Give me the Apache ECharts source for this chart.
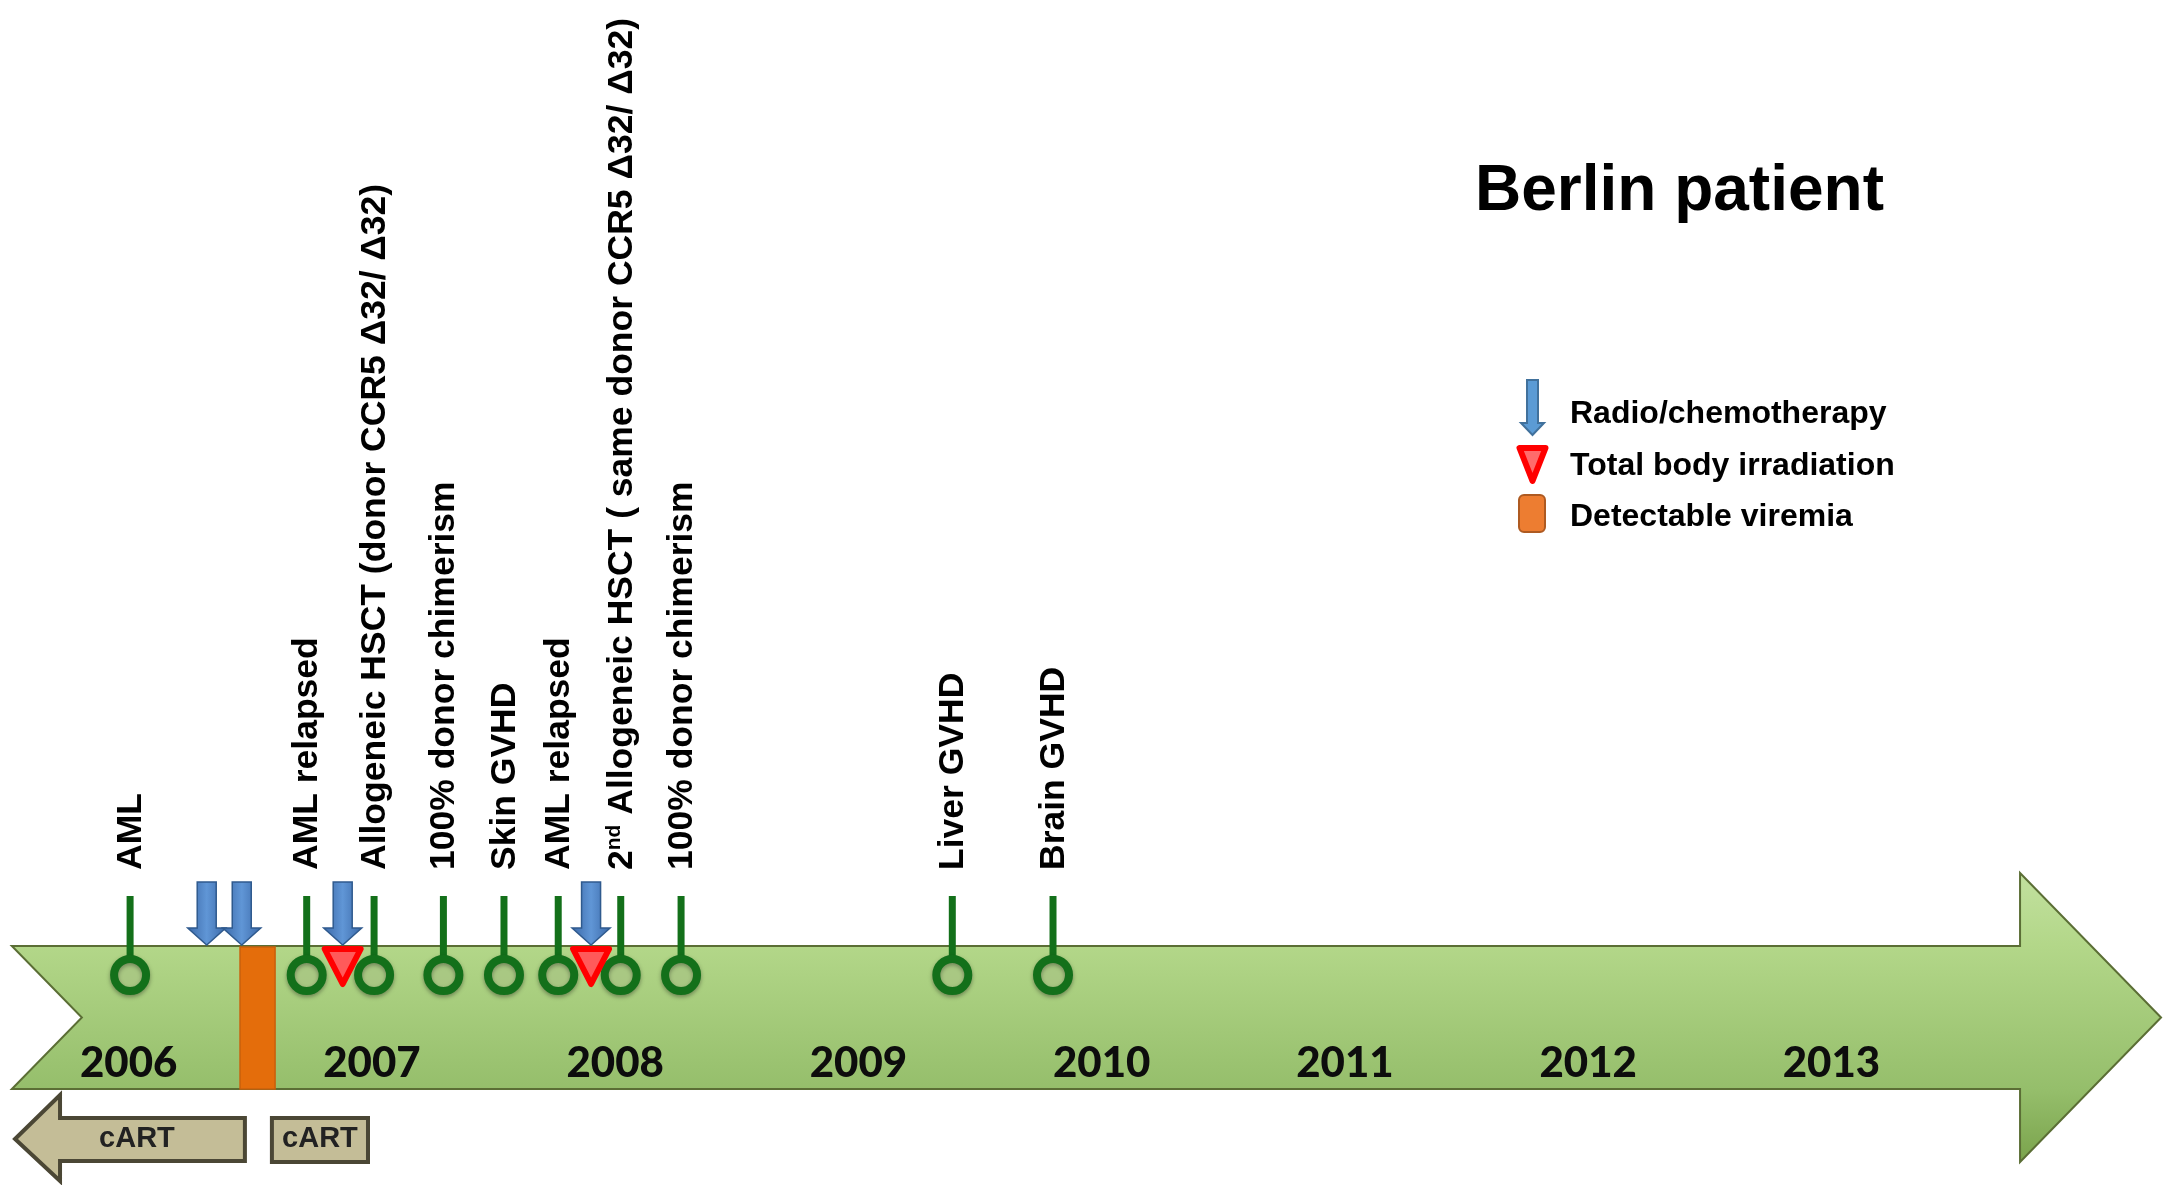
<!DOCTYPE html>
<html>
<head>
<meta charset="utf-8">
<title>Berlin patient</title>
<script src="https://cdn.jsdelivr.net/npm/echarts@6/dist/echarts.min.js"></script>
<style>
html, body { margin: 0; padding: 0; background: #fff; }
#chart { width: 2176px; height: 1185px; }
</style>
</head>
<body>
<div id="chart"></div>
<script>
// timeline values, in fractional years
var yearTicks = [2006, 2007, 2008, 2009, 2010, 2011, 2012, 2013];
var timelineRange = [2005.52, 2014.355];
var eventNames = [
  'AML',
  'AML relapsed',
  'Allogeneic HSCT (donor CCR5 \u039432/ \u039432)',
  '100% donor chimerism',
  'Skin GVHD',
  'AML relapsed',
  '2{sup|nd} Allogeneic HSCT ( same donor CCR5 \u039432/ \u039432)',
  '100% donor chimerism',
  'Liver GVHD',
  'Brain GVHD'
];
var eventDates = [2006.006, 2006.732, 2007.009, 2007.294, 2007.543, 2007.766, 2008.023, 2008.271, 2009.386, 2009.800];
var chemoDates = [2006.321, 2006.465, 2006.880, 2007.901];
var tbiDates = [2006.880, 2007.901];
var viremiaPeriods = [[2006.458, 2006.602]];
var cartPeriods = [[2005.533, 2006.478], [2006.589, 2006.984]];
var cartOpenStart = [true, false];
var cartLabels = ['cART', 'cART'];
var legendNames = ['Radio/chemotherapy', 'Total body irradiation', 'Detectable viremia'];

(function() {
  var ARIAL = '"Liberation Sans", Arial, sans-serif';
  var GREEN = '#13701a';
  var BAND_TOP = 946, BAND_BOTTOM = 1089, HEAD_TOP = 873, HEAD_BOTTOM = 1162;
  var HEAD_LEN = 141, NOTCH = 70;
  var STEM_TOP = 896, RING_Y = 975, RING_R = 16, LABEL_Y = 870;

  function xOf(api, v) { return api.coord([v, 0])[0]; }
  function pts(arr) { return arr.map(function(d) { return [d, 0]; }); }

  var bandFill = new echarts.graphic.LinearGradient(0, 0, 0, 1, [
    { offset: 0, color: '#c2e19f' },
    { offset: 0.25, color: '#b3d789' },
    { offset: 0.75, color: '#95be6b' },
    { offset: 1, color: '#7aa34c' }
  ]);
  var blueFill = new echarts.graphic.LinearGradient(0, 0, 1, 0, [
    { offset: 0, color: '#3a67a6' },
    { offset: 0.5, color: '#6096d6' },
    { offset: 1, color: '#3a67a6' }
  ]);

  var chart = echarts.init(document.getElementById('chart'), null, { renderer: 'canvas' });

  chart.setOption({
    animation: false,
    backgroundColor: '#ffffff',
    title: {
      text: 'Berlin patient',
      left: 1470, top: 155,
      textStyle: { fontFamily: ARIAL, fontWeight: 'bold', fontSize: 64, color: '#000' }
    },
    grid: { left: 7, right: 4, top: 0, bottom: 0 },
    xAxis: { type: 'value', min: 2005.5, max: 2014.4, show: false },
    yAxis: { type: 'value', min: 0, max: 1, show: false },
    series: [
      {
        // the green time arrow
        type: 'custom', silent: true, z: 1,
        data: [timelineRange],
        renderItem: function(params, api) {
          var x0 = xOf(api, api.value(0)), x1 = xOf(api, api.value(1));
          var xs = x1 - HEAD_LEN, mid = (BAND_TOP + BAND_BOTTOM) / 2;
          return {
            type: 'polygon',
            shape: { points: [[x0, BAND_TOP], [xs, BAND_TOP], [xs, HEAD_TOP], [x1, mid],
              [xs, HEAD_BOTTOM], [xs, BAND_BOTTOM], [x0, BAND_BOTTOM], [x0 + NOTCH, mid]] },
            style: { fill: bandFill, stroke: '#5b6e35', lineWidth: 2 }
          };
        }
      },
      {
        type: 'custom', name: legendNames[2], silent: true, z: 2,
        data: viremiaPeriods,
        renderItem: function(params, api) {
          var x0 = xOf(api, api.value(0)), x1 = xOf(api, api.value(1));
          return {
            type: 'rect',
            shape: { x: x0, y: BAND_TOP + 1, width: x1 - x0, height: BAND_BOTTOM - BAND_TOP - 1 },
            style: { fill: '#e46d0b', stroke: '#c9600c', lineWidth: 1.5 }
          };
        }
      },
      {
        type: 'custom', silent: true, z: 3,
        data: pts(yearTicks),
        renderItem: function(params, api) {
          return {
            type: 'text', x: xOf(api, api.value(0)), y: 1063,
            style: {
              text: String(yearTicks[params.dataIndex]), align: 'center', verticalAlign: 'middle',
              fontFamily: 'Lato, "Liberation Sans", sans-serif', fontWeight: 900, fontSize: 42, fill: '#0d0d0d'
            }
          };
        }
      },
      {
        type: 'custom', silent: true, z: 4,
        data: pts(eventDates),
        renderItem: function(params, api) {
          var x = xOf(api, api.value(0));
          return {
            type: 'group',
            children: [
              { type: 'line', shape: { x1: x, y1: STEM_TOP, x2: x, y2: RING_Y - RING_R },
                style: { stroke: GREEN, lineWidth: 7 } },
              { type: 'circle', shape: { cx: x, cy: RING_Y, r: RING_R },
                style: { fill: 'rgba(200,230,160,0.4)', stroke: GREEN, lineWidth: 8,
                  shadowBlur: 4, shadowOffsetY: 2, shadowColor: 'rgba(0,0,0,0.35)' } },
              { type: 'text', x: x + 1, y: LABEL_Y, rotation: Math.PI / 2,
                style: {
                  text: eventNames[params.dataIndex], align: 'left', verticalAlign: 'middle',
                  fontFamily: ARIAL, fontWeight: 'bold', fontSize: 35.5, fill: '#000',
                  rich: { sup: { fontFamily: ARIAL, fontWeight: 'bold', fontSize: 21, verticalAlign: 'top', fill: '#000' } }
                } }
            ]
          };
        }
      },
      {
        type: 'custom', name: legendNames[1], silent: true, z: 5,
        data: pts(tbiDates),
        renderItem: function(params, api) {
          var x = xOf(api, api.value(0));
          return {
            type: 'polygon',
            shape: { points: [[x - 18, 949], [x + 18, 949], [x, 984]] },
            style: { fill: '#ff5a5a', stroke: '#ff0000', lineWidth: 6, lineJoin: 'round' }
          };
        }
      },
      {
        type: 'custom', name: legendNames[0], silent: true, z: 6,
        data: pts(chemoDates),
        renderItem: function(params, api) {
          var x = xOf(api, api.value(0));
          return {
            type: 'polygon',
            shape: { points: [[x - 9.5, 882], [x + 9.5, 882], [x + 9.5, 928], [x + 19, 928],
              [x, 945], [x - 19, 928], [x - 9.5, 928]] },
            style: { fill: blueFill, stroke: '#2f5a8e', lineWidth: 1.5 }
          };
        }
      },
      {
        type: 'custom', silent: true, z: 3,
        data: cartPeriods,
        renderItem: function(params, api) {
          var i = params.dataIndex;
          var x0 = xOf(api, api.value(0)), x1 = xOf(api, api.value(1));
          var shape;
          if (cartOpenStart[i]) {
            shape = { type: 'polygon', shape: { points: [[x0, 1139], [x0 + 45, 1095], [x0 + 45, 1118],
              [x1, 1118], [x1, 1161], [x0 + 45, 1161], [x0 + 45, 1181]] },
              style: { fill: '#c4bd97', stroke: '#4b4735', lineWidth: 4 } };
          } else {
            shape = { type: 'rect', shape: { x: x0, y: 1118, width: x1 - x0, height: 44 },
              style: { fill: '#c4bd97', stroke: '#4b4735', lineWidth: 4 } };
          }
          var tx = cartOpenStart[i] ? (x0 + x1) / 2 + 7 : (x0 + x1) / 2;
          return {
            type: 'group',
            children: [shape, {
              type: 'text', x: tx, y: 1139,
              style: { text: cartLabels[i], align: 'center', verticalAlign: 'middle',
                fontFamily: ARIAL, fontWeight: 'bold', fontSize: 29, fill: '#222' }
            }]
          };
        }
      }
    ],
    graphic: [
      { type: 'polygon', shape: { points: [[1527, 380], [1538, 380], [1538, 423], [1544, 423],
          [1532.5, 435], [1521, 423], [1527, 423]] },
        style: { fill: '#5b9bd5', stroke: '#41719c', lineWidth: 2 } },
      { type: 'polygon', shape: { points: [[1519.5, 448], [1545.5, 448], [1532.5, 481]] },
        style: { fill: '#ff6b6b', stroke: '#ff0000', lineWidth: 6, lineJoin: 'round' } },
      { type: 'rect', shape: { x: 1519, y: 495, width: 26, height: 37, r: 5 },
        style: { fill: '#ed7d31', stroke: '#ae5a21', lineWidth: 2 } },
      { type: 'text', x: 1570, y: 414, style: { text: legendNames[0], verticalAlign: 'middle',
          fontFamily: ARIAL, fontWeight: 'bold', fontSize: 32, fill: '#000' } },
      { type: 'text', x: 1570, y: 466, style: { text: legendNames[1], verticalAlign: 'middle',
          fontFamily: ARIAL, fontWeight: 'bold', fontSize: 32, fill: '#000' } },
      { type: 'text', x: 1570, y: 517, style: { text: legendNames[2], verticalAlign: 'middle',
          fontFamily: ARIAL, fontWeight: 'bold', fontSize: 32, fill: '#000' } }
    ]
  });

  window.addEventListener('resize', function() { chart.resize(); });
})();
</script>
</body>
</html>
